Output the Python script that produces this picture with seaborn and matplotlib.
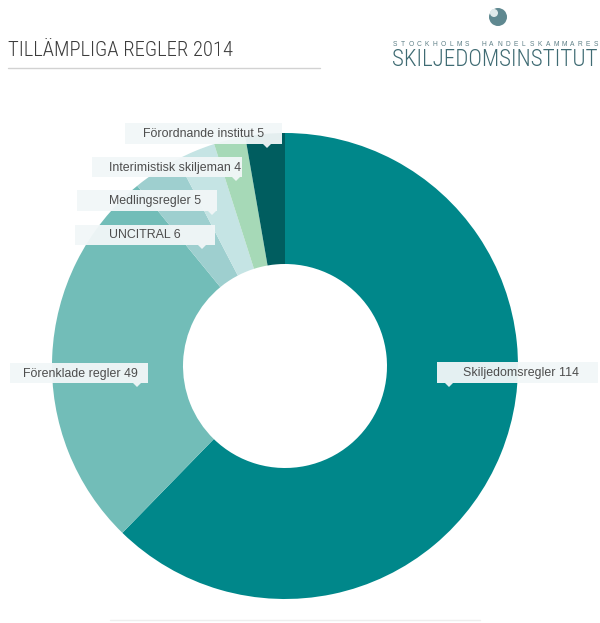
import matplotlib
matplotlib.use("Agg")
import matplotlib.pyplot as plt
import seaborn as sns
from matplotlib import font_manager
from matplotlib.font_manager import FontProperties
from matplotlib.patches import Rectangle, Polygon, Circle

# ---- data ----
categories = ["Skiljedomsregler", "Förenklade regler", "UNCITRAL",
              "Medlingsregler", "Interimistisk skiljeman", "Förordnande institut"]
values = [114, 49, 6, 5, 4, 5]
colors = ["#00878a", "#72bdb8", "#9ecfcf", "#c5e4e4", "#a6d9b7", "#005d5f"]
title = "TILLÄMPLIGA REGLER 2014"

# ---- layout (pixel coords) ----
# box left, box right, box top, box bottom, text x, pointer x
label_layout = [
    (437, 598, 362, 383, 463, 449),
    (10, 148, 363, 383, 23, 137),
    (75, 215, 225, 245, 109, 202),
    (77, 217, 190, 211, 109, 212),
    (92, 242, 157, 177, 109, 236),
    (125, 282, 123, 144, 143, 267),
]

sns.set_theme(style="white")
plt.rcParams["font.family"] = ["Liberation Sans", "DejaVu Sans"]


def pick_narrow():
    names = {f.name for f in font_manager.fontManager.ttflist}
    for fam in ["Liberation Sans Narrow", "Roboto Condensed", "Open Sans Condensed"]:
        if fam in names:
            return FontProperties(family=fam, weight="light")
    for fam in ["Noto Sans", "Open Sans", "Roboto", "Lato"]:
        if fam in names:
            fp = FontProperties(family=fam, stretch="condensed", weight="light")
            path = font_manager.findfont(fp, fallback_to_default=True)
            if "ondensed" in path:
                return fp
    if "Lato" in names:
        return FontProperties(family="Lato", weight="light")
    return FontProperties(family="Liberation Sans")


narrow_fp = pick_narrow()

fig = plt.figure(figsize=(6.0, 6.23), dpi=100)
ax = fig.add_axes([0, 0, 1, 1])

palette = sns.color_palette(colors)
ax.pie(values, colors=palette, startangle=270, counterclock=True,
       center=(285, 366), radius=233,
       wedgeprops=dict(width=131, linewidth=0), frame=True)
ax.set_xlim(0, 600)
ax.set_ylim(623, 0)
ax.set_aspect("auto")
ax.axis("off")

# callout labels
for cat, val, (bl, br, bt, bb, tx, px) in zip(categories, values, label_layout):
    ax.add_patch(Rectangle((bl, bt), br - bl, bb - bt, facecolor="#f2f7f8",
                           edgecolor="none", alpha=0.95, zorder=5))
    ax.add_patch(Polygon([(px - 4, bb), (px + 4, bb), (px, bb + 4)], closed=True,
                         facecolor="#f2f7f8", edgecolor="none", alpha=0.95, zorder=5))
    ax.text(tx, (bt + bb) / 2 + 0.5, f"{cat} {val}", fontsize=8.9, color="#4d4d4d",
            ha="left", va="center", zorder=6)

# title and rule
t_title = ax.text(8, 51, title, fontproperties=narrow_fp.copy(), fontsize=14.6,
                  color="#3c3c3c", ha="left", va="center")
ax.plot([8, 320], [68, 68], color="#d2d2d2", lw=1)

# logo
ax.add_patch(Circle((498, 17), 9, facecolor="#5f8890", edgecolor="none"))
ax.add_patch(Circle((494, 13), 4, facecolor="#dfe9ea", edgecolor="none"))
small = "STOCKHOLMS HANDELSKAMMARES"
x0, x1 = 395, 596
step = (x1 - x0) / (len(small) - 1)
for i, ch in enumerate(small):
    ax.text(x0 + i * step, 44, ch, fontsize=4.8, color="#5d7f86",
            ha="center", va="center")
t_logo = ax.text(495, 60, "SKILJEDOMSINSTITUT", fontproperties=narrow_fp.copy(),
                 fontsize=16.5, color="#3f6b73", ha="center", va="center")

# faint bottom rule
ax.plot([110, 480], [620, 620], color="#eeeeee", lw=1)


def fit_width(txt, target):
    fig.canvas.draw()
    r = fig.canvas.get_renderer()
    w = txt.get_window_extent(r).width
    txt.set_fontsize(txt.get_fontsize() * target / w)


fit_width(t_title, 225)
fit_width(t_logo, 204)

fig.savefig("out.png", dpi=100)
